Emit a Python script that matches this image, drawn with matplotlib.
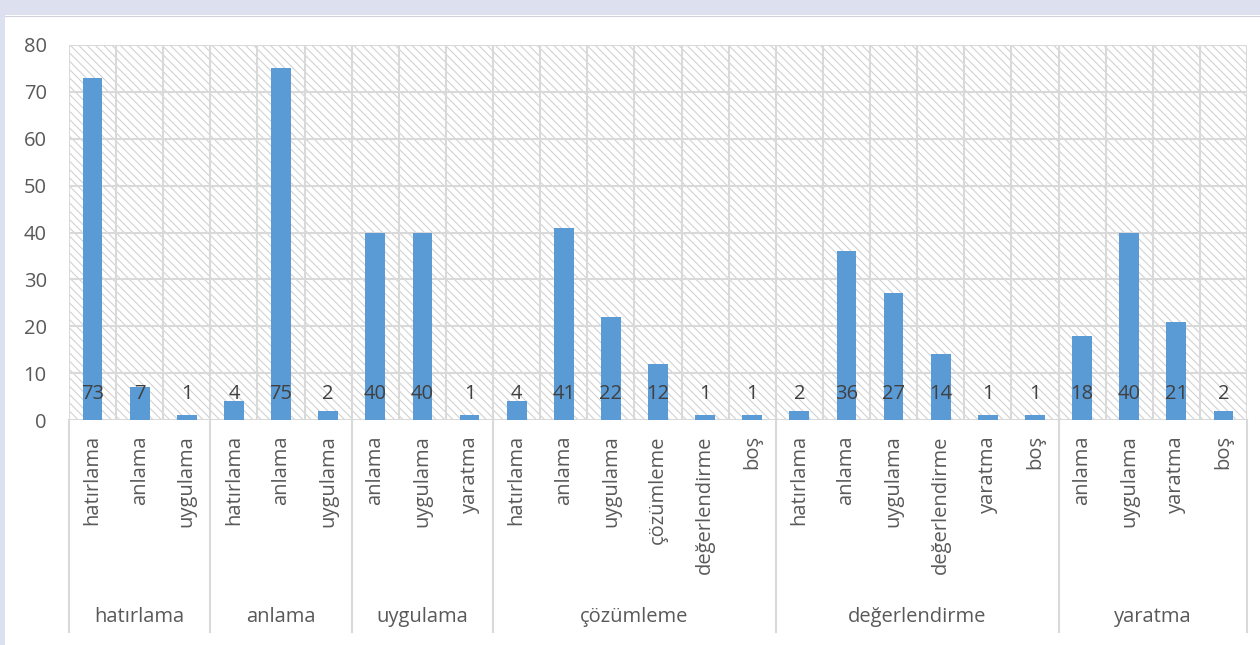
import matplotlib
matplotlib.use("Agg")
import matplotlib.pyplot as plt
from matplotlib.patches import Rectangle
from matplotlib.lines import Line2D
import matplotlib.transforms as mtransforms

plt.rcParams['font.family'] = ['Open Sans', 'DejaVu Sans']
plt.rcParams['hatch.linewidth'] = 0.8

groups = ["hatırlama", "anlama", "uygulama", "çözümleme", "değerlendirme", "yaratma"]
sub_labels = [
    ["hatırlama", "anlama", "uygulama"],
    ["hatırlama", "anlama", "uygulama"],
    ["anlama", "uygulama", "yaratma"],
    ["hatırlama", "anlama", "uygulama", "çözümleme", "değerlendirme", "boş"],
    ["hatırlama", "anlama", "uygulama", "değerlendirme", "yaratma", "boş"],
    ["anlama", "uygulama", "yaratma", "boş"],
]
values = [
    [73, 7, 1],
    [4, 75, 2],
    [40, 40, 1],
    [4, 41, 22, 12, 1, 1],
    [2, 36, 27, 14, 1, 1],
    [18, 40, 21, 2],
]
y_ticks = [0, 10, 20, 30, 40, 50, 60, 70, 80]

FS = 14.5
W, H = 1260, 645
fig = plt.figure(figsize=(W / 100, H / 100), dpi=100)
fig.patch.set_facecolor("white")
# outer frame strips
fig.patches.append(Rectangle((0, 1 - 15 / H), 1, 15 / H, transform=fig.transFigure,
                             facecolor="#dde1ef", edgecolor="none", zorder=0))
fig.patches.append(Rectangle((0, 0), 5 / W, 1, transform=fig.transFigure,
                             facecolor="#dde1ef", edgecolor="none", zorder=0))
fig.add_artist(Line2D([5 / W, 1], [1 - 16 / H, 1 - 16 / H], transform=fig.transFigure,
                      color="#d0d3dc", lw=0.8))

left, right, bottom, top = 69, 1247, 420, 45
ax = fig.add_axes([left / W, 1 - bottom / H, (right - left) / W, (bottom - top) / H])

flat_labels = [s for g in sub_labels for s in g]
flat_vals = [v for g in values for v in g]
n = len(flat_vals)
xs = list(range(n))

ax.set_xlim(-0.5, n - 0.5)
ax.set_ylim(0, 80)
ax.patch.set_facecolor("white")
bg = Rectangle((0, 0), 1, 1, transform=ax.transAxes, facecolor="white",
               edgecolor="#d2d2d2", hatch="\\\\\\\\", lw=0, zorder=0)
ax.add_patch(bg)

grid_c = "#d9d9d9"
for yv in y_ticks:
    ax.axhline(yv, color=grid_c, lw=1.5, zorder=1)
for i in range(n + 1):
    ax.axvline(i - 0.5, color=grid_c, lw=1.5, zorder=1)

ax.bar(xs, flat_vals, width=0.42, color="#5b9bd5", zorder=3)

for x, v in zip(xs, flat_vals):
    ax.annotate(str(v), (x, 0), xytext=(0, 19), textcoords="offset points",
                ha="center", va="center", fontsize=FS, color="#404040", zorder=4)

for s in ax.spines.values():
    s.set_visible(False)

ax.set_yticks(y_ticks)
ax.set_yticklabels([str(t) for t in y_ticks], fontsize=FS, color="#595959")
ax.tick_params(axis="y", length=0, pad=16)
ax.set_xticks(xs)
ax.set_xticklabels(flat_labels, rotation=90, fontsize=FS, color="#595959", va="top", ha="center")
ax.tick_params(axis="x", length=0, pad=11)

trans = mtransforms.blended_transform_factory(ax.transData, ax.transAxes)
y_sep = -(632 - 420) / (420 - 45)
y_grp = -(617 - 420) / (420 - 45)
start = 0
bounds = [0]
for gi, g in enumerate(sub_labels):
    end = start + len(g)
    bounds.append(end)
    ax.text((start + end - 1) / 2, y_grp, groups[gi], transform=trans, ha="center",
            va="center", fontsize=FS, color="#595959")
    start = end
for b in bounds:
    ax.add_line(Line2D([b - 0.5, b - 0.5], [0, y_sep], transform=trans, color=grid_c,
                       lw=1.5, clip_on=False))

fig.savefig("out.png", dpi=100)
